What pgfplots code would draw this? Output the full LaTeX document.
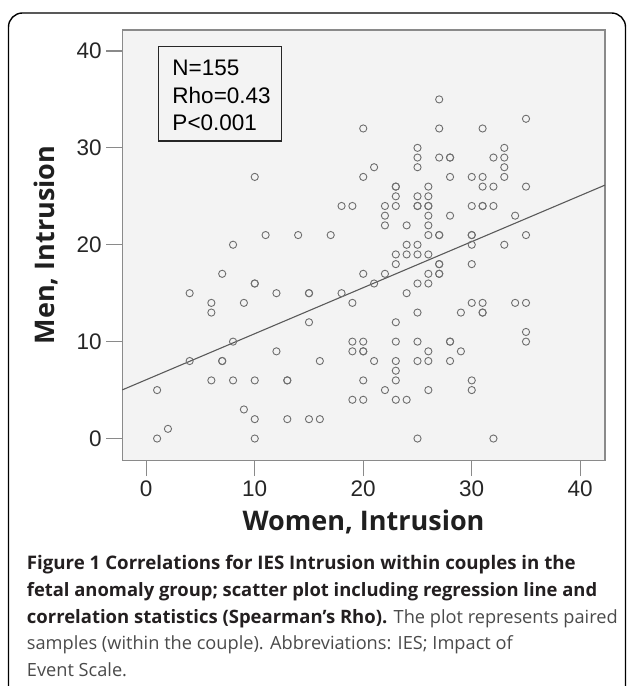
\documentclass[border=0pt]{standalone}
\usepackage{fontspec}
\setmainfont{Liberation Sans}
\newfontfamily\labfont{Open Sans}
\newfontfamily\capfont{Open Sans}
\usepackage{pgfplots}
\pgfplotsset{compat=1.18}
\definecolor{plotbg}{HTML}{F3F3F3}
\definecolor{axisgray}{HTML}{8A8A8A}
\definecolor{markgray}{HTML}{6E6E6E}
\definecolor{linegray}{HTML}{5A5A5A}
\definecolor{captxt}{HTML}{231F20}
\definecolor{capreg}{HTML}{4A4A4A}

\pgfplotstableread{
x y
10 27
8 20
11 21
14 21
17 21
18 24
7 17
10 16
10 16
4 15
6 14
6 13
9 14
12 15
15 15
15 15
18 15
15 12
8 10
12 9
16 8
4 8
7 8
7 8
1 5
6 6
8 6
10 6
13 6
13 6
9 3
10 2
13 2
15 2
16 2
2 1
1 0
10 0
27 35
20 32
27 32
31 32
35 33
25 30
33 30
25 29
27 29
28 29
28 29
32 29
33 29
21 28
25 28
33 28
20 27
28 27
30 27
31 27
33 27
23 26
23 26
26 26
31 26
32 26
35 26
23 25
25 25
26 25
19 24
22 24
23 24
25 24
25 24
26 24
26 24
30 24
31 24
31 24
32 24
22 23
26 23
28 23
34 23
22 22
24 22
26 22
26 21
27 21
27 21
30 21
30 21
35 21
24 20
25 20
30 20
33 20
23 19
24 19
25 19
26 19
23 18
27 18
27 18
30 18
20 17
22 17
26 17
27 17
27 17
21 16
25 16
26 16
24 15
19 14
30 14
31 14
34 14
35 14
25 13
29 13
31 13
31 13
23 12
35 11
35 10
19 10
20 10
23 10
25 10
28 10
28 10
19 9
20 9
20 9
26 9
29 9
21 8
23 8
25 8
26 8
28 8
23 7
20 6
23 6
30 6
22 5
26 5
30 5
19 4
20 4
23 4
24 4
25 0
32 0
}\pairs

\begin{document}
\begin{tikzpicture}[x=1pt,y=1pt]
\useasboundingbox (0,0) rectangle (629,686);
\draw[line width=1.4pt, rounded corners=14pt] (8.5,-30) -- (8.5,673) -- (625.5,673) -- (625.5,-30);
\begin{axis}[
  at={(112.7,233)}, anchor=south west,
  scale only axis, width=482.6pt, height=430.3pt,
  xmin=-2.21, xmax=42.27, ymin=-2.24, ymax=42.17,
  xtick={0,10,20,30,40}, ytick={0,10,20,30,40},
  xtick pos=left, ytick pos=left,
  tick align=outside, major tick length=16pt,
  tick style={axisgray, line width=1.2pt},
  axis line style={axisgray, line width=1.3pt},
  axis background/.style={fill=plotbg},
  /pgf/number format/assume math mode=true,
  ticklabel style={font=\fontsize{22.5}{22.5}\selectfont, text=black!85},
  xticklabel style={yshift=-1pt},
  yticklabel style={xshift=-1pt},
  xlabel={Women, Intrusion},
  ylabel={Men, Intrusion},
  label style={font=\labfont\bfseries\fontsize{27}{27}\selectfont, text=black!88},
  xlabel style={at={(axis description cs:0.5,-0.1627)}, anchor=base},
  ylabel style={at={(axis description cs:-0.1403,0.5)}, anchor=base},
  clip=false,
]
\addplot[only marks, mark=o, mark size=3.6pt, mark options={draw=markgray, line width=0.9pt}] table[x=x, y=y] {\pairs};
\addplot[linegray, line width=1.1pt] coordinates {(-2.21,5.02) (42.27,26.15)};
\draw[black!85, line width=1.2pt] (axis cs:1.16,40.5) rectangle (axis cs:12.44,30.7);
\node[anchor=north west, align=left, inner sep=0pt, font=\fontsize{22.5}{27.5}\selectfont]
  at (axis cs:2.40,39.07) {N=155\\Rho=0.43\\P<0.001};
\end{axis}
\node[anchor=base west, inner sep=0pt, text=captxt, font=\capfont\bfseries\fontsize{18.7}{18.7}\selectfont] at (26.7,116.7)
  {Figure 1 Correlations for IES Intrusion within couples in the};
\node[anchor=base west, inner sep=0pt, text=captxt, font=\capfont\bfseries\fontsize{18.4}{18.4}\selectfont] at (26.7,89.3)
  {fetal anomaly group; scatter plot including regression line and};
\node[anchor=base west, inner sep=0pt, font=\capfont\fontsize{18.2}{18.2}\selectfont] at (26.7,62)
  {\textcolor{captxt}{\bfseries\fontsize{18.5}{18.5}\selectfont correlation statistics (Spearman’s Rho).} \textcolor{capreg}{The plot represents paired}};
\node[anchor=base west, inner sep=0pt, text=capreg, font=\capfont\fontsize{18.2}{18.2}\selectfont] at (26.7,36)
  {samples (within the couple). Abbreviations: IES; Impact of};
\node[anchor=base west, inner sep=0pt, text=capreg, font=\capfont\fontsize{18.2}{18.2}\selectfont] at (26.7,9.3)
  {Event Scale.};
\end{tikzpicture}
\end{document}
